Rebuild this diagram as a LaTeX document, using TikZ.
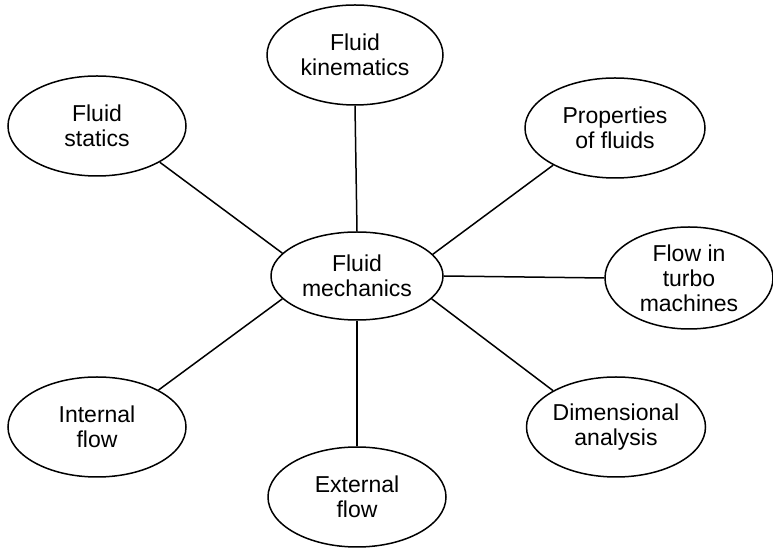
\documentclass[tikz,border=0pt]{standalone}
\usepackage{fontspec}
\setmainfont{Liberation Sans}
\usetikzlibrary{shapes.geometric}
\tikzset{
  topic/.style={ellipse, draw, line width=1.5pt, inner sep=0pt,
    minimum width=178pt, minimum height=100pt, align=center,
    font=\fontsize{23}{25}\selectfont},
  link/.style={line width=1.5pt}
}
\begin{document}
\begin{tikzpicture}[x=1pt,y=1pt]
\useasboundingbox (0,0) rectangle (773,548);
\clip (0,0) rectangle (773,548);
\node[topic, minimum width=172pt, minimum height=88pt] (fm) at (357,272) {Fluid\\mechanics};
\node[topic, minimum width=176pt] (fk) at (355,493) {Fluid\\kinematics};
\node[topic] (fs) at (97,422) {Fluid\\statics};
\node[topic, minimum width=180pt] (fp) at (615,420) {Properties\\of fluids};
\node[topic, minimum width=168pt, minimum height=102pt] (ft) at (689,270) {Flow in\\turbo\\machines};
\node[topic] (fd) at (616,121) {Dimensional\\analysis};
\node[topic] (fi) at (97,121) {Internal\\flow};
\node[topic] (fe) at (357,51) {External\\flow};
\draw[link] (fk.south) -- (fm.north);
\draw[link] (fs.-30) -- (fm.163);
\draw[link] (fp.-149) -- (fm.16);
\draw[link] (fm.east) -- (ft.west);
\draw[link] (fd.150) -- (fm.-17);
\draw[link] (fi.31) -- (fm.-163);
\draw[link] (fm.south) -- (fe.north);
\end{tikzpicture}
\end{document}
